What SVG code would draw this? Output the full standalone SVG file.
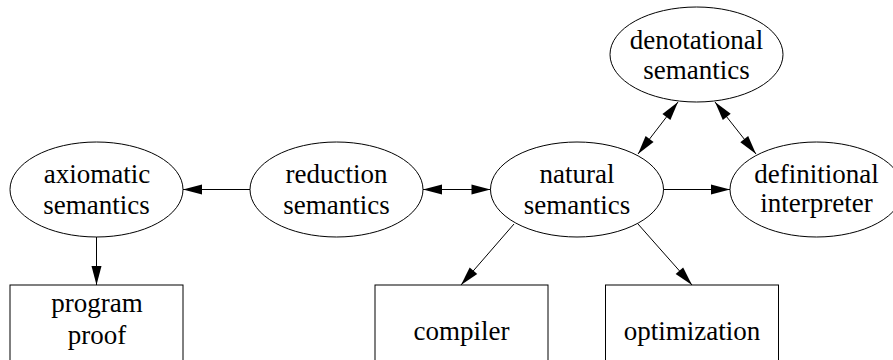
<svg xmlns="http://www.w3.org/2000/svg" width="893" height="360" viewBox="0 0 893 360">
<style>
.node ellipse, .node rect { fill: #fff; stroke: #000; stroke-width: 1; }
.edges line { stroke: #000; stroke-width: 1; fill: none; }
.one { marker-end: url(#ah); }
.two { marker-start: url(#ah); marker-end: url(#ah); }
</style>
<defs>
<marker id="ah" markerUnits="userSpaceOnUse" markerWidth="20" markerHeight="10" refX="19" refY="5" orient="auto-start-reverse" overflow="visible">
<path d="M0,0 L19,5 L0,10 z" fill="#000"/>
</marker>
</defs>
<rect width="893" height="360" fill="#fff"/>
<g id="axiomatic" class="node">
<ellipse cx="96.5" cy="189.5" rx="86.5" ry="47.5"/>
<text x="97" y="183" font-family="Times New Roman" font-size="27" text-anchor="middle">axiomatic</text>
<text x="96.5" y="214" font-family="Times New Roman" font-size="27" text-anchor="middle">semantics</text>
</g>
<g id="reduction" class="node">
<ellipse cx="336.5" cy="189.5" rx="86.5" ry="47.5"/>
<text x="336.5" y="183" font-family="Times New Roman" font-size="27" text-anchor="middle">reduction</text>
<text x="336.5" y="214" font-family="Times New Roman" font-size="27" text-anchor="middle">semantics</text>
</g>
<g id="natural" class="node">
<ellipse cx="577" cy="189.5" rx="86.5" ry="47.5"/>
<text x="577" y="182.5" font-family="Times New Roman" font-size="27" text-anchor="middle">natural</text>
<text x="577" y="213.5" font-family="Times New Roman" font-size="27" text-anchor="middle">semantics</text>
</g>
<g id="definitional" class="node">
<ellipse cx="816.5" cy="189.5" rx="86.5" ry="47.5"/>
<text x="816.5" y="183" font-family="Times New Roman" font-size="27" text-anchor="middle">definitional</text>
<text x="816.5" y="212" font-family="Times New Roman" font-size="27" text-anchor="middle">interpreter</text>
</g>
<g id="denotational" class="node">
<ellipse cx="696.5" cy="54.5" rx="86.5" ry="47.5"/>
<text x="696.5" y="48.5" font-family="Times New Roman" font-size="27" text-anchor="middle">denotational</text>
<text x="696.5" y="78.5" font-family="Times New Roman" font-size="27" text-anchor="middle">semantics</text>
</g>
<g id="program_proof" class="node">
<rect x="10" y="285" width="173" height="95"/>
<text x="97" y="311.5" font-family="Times New Roman" font-size="27" text-anchor="middle">program</text>
<text x="97" y="344" font-family="Times New Roman" font-size="27" text-anchor="middle">proof</text>
</g>
<g id="compiler" class="node">
<rect x="375" y="285" width="173" height="95"/>
<text x="461.5" y="340" font-family="Times New Roman" font-size="27" text-anchor="middle">compiler</text>
</g>
<g id="optimization" class="node">
<rect x="605.5" y="285" width="173" height="95"/>
<text x="692" y="340" font-family="Times New Roman" font-size="27" text-anchor="middle">optimization</text>
</g>
<g id="connectors" class="edges">
<line class="one" x1="250" y1="189.5" x2="183" y2="189.5"/>
<line class="two" x1="423" y1="189.5" x2="490.5" y2="189.5"/>
<line class="one" x1="663.5" y1="189.5" x2="730" y2="189.5"/>
<line class="one" x1="96.5" y1="237" x2="96.5" y2="285"/>
<line class="one" x1="514" y1="224" x2="461" y2="285"/>
<line class="one" x1="638" y1="224" x2="692" y2="285"/>
<line class="two" x1="638" y1="154" x2="678" y2="102"/>
<line class="two" x1="715" y1="102" x2="756" y2="154"/>
</g>
</svg>
